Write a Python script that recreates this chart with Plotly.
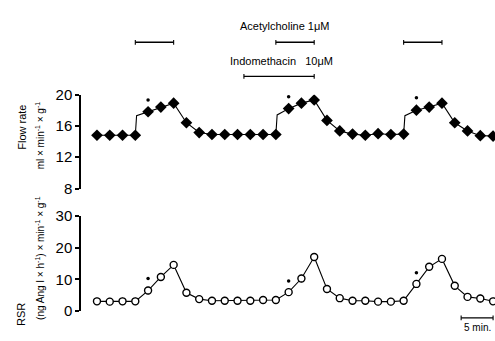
import plotly.graph_objects as go

# ---- data ----
time_min = [0, 2, 4, 6, 8, 10, 12, 14, 16, 18, 20, 22, 24, 26, 28, 30,
            32, 34, 36, 38, 40, 42, 44, 46, 48, 50, 52, 54, 56, 58, 60, 62]
flow_rate = [14.8, 14.8, 14.8, 14.8, 17.8, 18.4, 18.9, 16.4, 15.15, 14.9, 14.9,
             14.9, 14.9, 14.9, 14.9, 18.2, 18.9, 19.3, 16.7, 15.35, 14.95, 14.8,
             15.0, 14.9, 14.95, 18.0, 18.4, 18.9, 16.4, 15.35, 14.75, 14.7]
flow_err = [0.3] * 32
rsr = [3.1, 3.0, 3.1, 3.1, 6.5, 10.8, 14.6, 5.8, 3.8, 3.3, 3.3, 3.3, 3.3, 3.5,
       3.5, 6.0, 10.3, 17.1, 7.0, 4.1, 3.3, 3.3, 3.0, 3.0, 3.3, 8.6, 14.0, 16.5,
       8.0, 4.5, 4.0, 3.1]
rsr_err = [1.2] * 32
# vertical step of flow trace right after the start of each infusion
jump_t = [6.2, 28.2, 48.2]
jump_flow = [17.3, 17.4, 17.3]
# significance asterisks
star_t = [8, 30, 50]
star_flow = [19.3, 19.7, 19.6]
star_rsr = [10.3, 9.5, 12.1]
# infusion periods (min)
ach_start = [6, 28, 48]
ach_end = [12, 34, 54]
indo_start = [23]
indo_end = [34]
scale_start = 57
scale_end = 62
flow_ticks = [8, 12, 16, 20]
rsr_ticks = [0, 10, 20, 30]

W, H = 495, 341
x_left = 81 / W
xr = [-2.5, 62.3]

line_pts = sorted(zip(time_min + jump_t, flow_rate + jump_flow))
line_t = [p[0] for p in line_pts]
line_y = [p[1] for p in line_pts]

fig = go.Figure()
# top panel: flow rate
fig.add_trace(go.Scatter(x=line_t, y=line_y, mode="lines", xaxis="x2", yaxis="y2",
                         line=dict(color="black", width=1.1), hoverinfo="skip"))
fig.add_trace(go.Scatter(x=time_min, y=flow_rate, mode="markers", xaxis="x2", yaxis="y2",
                         marker=dict(symbol="diamond", size=9, color="black"),
                         error_y=dict(type="data", array=flow_err, color="black",
                                      thickness=1, width=0)))
fig.add_trace(go.Scatter(x=star_t, y=star_flow, mode="markers", xaxis="x2", yaxis="y2",
                         marker=dict(symbol="circle", size=3.5, color="black")))
# bottom panel: RSR
fig.add_trace(go.Scatter(x=time_min, y=rsr, mode="lines+markers", xaxis="x", yaxis="y",
                         line=dict(color="black", width=1.1),
                         marker=dict(symbol="circle", size=7, color="white",
                                     line=dict(color="black", width=1.4)),
                         error_y=dict(type="data", array=rsr_err, color="black",
                                      thickness=1, width=0)))
fig.add_trace(go.Scatter(x=star_t, y=star_rsr, mode="markers", xaxis="x", yaxis="y",
                         marker=dict(symbol="circle", size=3.5, color="black")))

shapes = []
def hbar(x0, x1, ypx, xref="x2"):
    yp = 1 - ypx / H
    cap = 2.5 / H
    shapes.append(dict(type="line", xref=xref, yref="paper", x0=x0, x1=x1, y0=yp, y1=yp,
                       line=dict(color="black", width=1.3)))
    for xx in (x0, x1):
        shapes.append(dict(type="line", xref=xref, yref="paper", x0=xx, x1=xx,
                           y0=yp - cap, y1=yp + cap, line=dict(color="black", width=1.1)))

for a, b in zip(ach_start, ach_end):
    hbar(a, b, 35)
for a, b in zip(indo_start, indo_end):
    hbar(a, b, 71)
hbar(scale_start, scale_end, 325, xref="x")

font_main = "Liberation Sans, Arial, sans-serif"
def ann(text, x, ypx, size, xref="paper", angle=0):
    return dict(text=text, x=x, y=1 - ypx / H, xref=xref, yref="paper",
                xanchor="center", yanchor="middle", textangle=angle, showarrow=False,
                font=dict(size=size, color="black", family=font_main))

annotations = [
    ann("Acetylcholine 1μM", 285 / W, 18, 11),
    ann("Indomethacin   10μM", 281 / W, 55, 11),
    ann("5 min.", (scale_start + scale_end) / 2, 335, 10, xref="x"),
    ann("Flow rate", 22 / W, 125, 11, angle=-90),
    ann("ml × min<sup>-1</sup> × g<sup>-1</sup>", 40 / W, 133, 10, angle=-90),
    ann("RSR", 21 / W, 322, 11, angle=-90),
    ann("(ng Ang I × h<sup>-1</sup>) × min<sup>-1</sup> × g<sup>-1</sup>", 40 / W, 262, 10, angle=-90),
]

axis_common = dict(showgrid=False, zeroline=False, showline=True, linecolor="black",
                   linewidth=1.5, ticks="outside", ticklen=4, tickwidth=1.5,
                   tickcolor="black", tickfont=dict(size=15, color="black", family=font_main))

fig.update_layout(
    width=W, height=H, margin=dict(l=0, r=0, t=0, b=0),
    paper_bgcolor="white", plot_bgcolor="white", showlegend=False,
    xaxis=dict(domain=[x_left, 1], range=xr, visible=False),
    xaxis2=dict(domain=[x_left, 1], range=xr, visible=False, anchor="y2"),
    yaxis=dict(domain=[1 - 318 / H, 1 - 218 / H], range=[0, 30], tickvals=rsr_ticks,
               anchor="x", **axis_common),
    yaxis2=dict(domain=[1 - 189 / H, 1 - 90 / H], range=[8, 20], tickvals=flow_ticks,
                anchor="x2", **axis_common),
    shapes=shapes, annotations=annotations,
)
fig.write_html("out.html")
